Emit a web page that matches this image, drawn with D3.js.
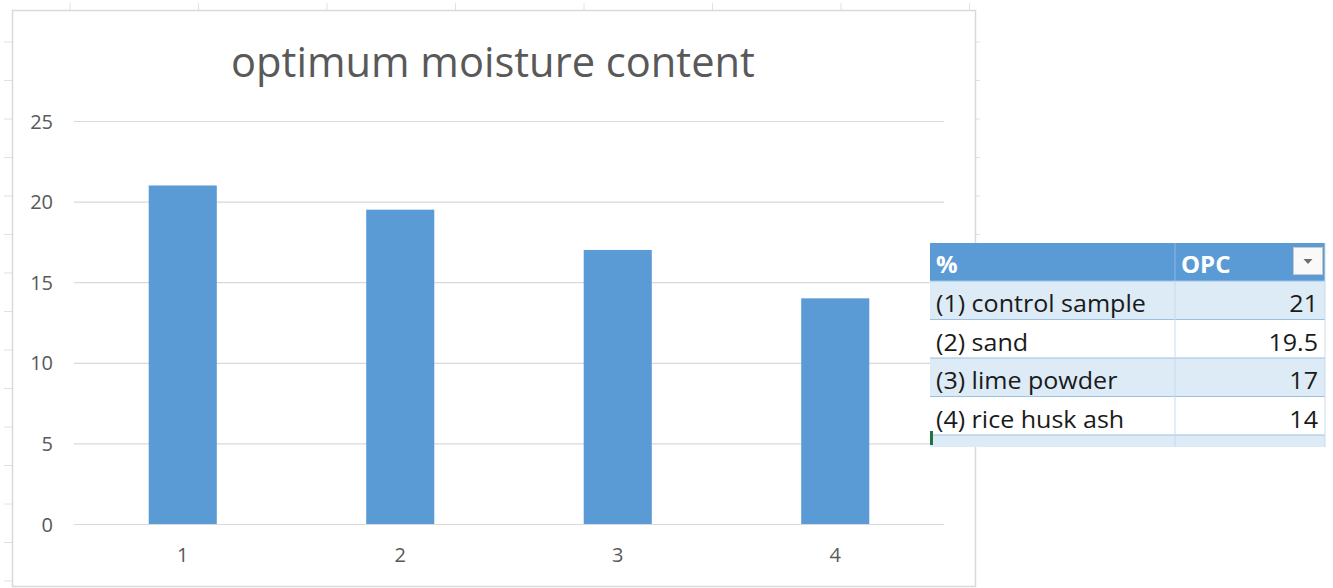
<!DOCTYPE html>
<html>
<head>
<meta charset="utf-8">
<script src="https://cdn.jsdelivr.net/npm/d3@7"></script>
<style>
  html, body { margin: 0; padding: 0; background: #fff; }
  svg { display: block; }
</style>
</head>
<body>
<svg id="chart" width="1333" height="588"></svg>
<script>
// Optimum moisture content (%) of the OPC mixes
const categories = ["1", "2", "3", "4"];
const values = [21, 19.5, 17, 14];
const yTicks = [0, 5, 10, 15, 20, 25];
const rowLabels = ["(1) control sample", "(2) sand", "(3) lime powder", "(4) rice husk ash"];
const tableHeader = ["%", "OPC"];
const chartTitle = "optimum moisture content";

const W = 1333, H = 588;
const svg = d3.select("#chart");
const font = "'Open Sans', 'Noto Sans', sans-serif";
const grey = "#595959";
const barColor = "#5b9bd5";

// fit a text element to a given pixel width
function fitWidth(sel, target) {
  const node = sel.node();
  const base = parseFloat(sel.attr("font-size"));
  const w = node.getComputedTextLength();
  sel.attr("font-size", (base * target / w).toFixed(2));
}

// worksheet cell-grid stubs around the chart object
const frame = { x0: 12, y0: 10, x1: 975, y1: 586 };
const rowStep = 38.5, colStep = 128.5;
const stubs = svg.append("g").attr("stroke", "#e2e2e2").attr("stroke-width", 1);
for (let y = 42; y < H; y += rowStep) {
  stubs.append("line").attr("x1", 4).attr("x2", frame.x0).attr("y1", y).attr("y2", y);
  if (y < 240) stubs.append("line").attr("x1", frame.x1).attr("x2", frame.x1 + 5).attr("y1", y).attr("y2", y);
}
for (let x = 70; x < frame.x1; x += colStep) {
  stubs.append("line").attr("x1", x).attr("x2", x).attr("y1", 3).attr("y2", frame.y0);
}

// chart area border
svg.append("rect")
  .attr("x", frame.x0 + 0.5).attr("y", frame.y0 + 0.5)
  .attr("width", frame.x1 - frame.x0).attr("height", frame.y1 - frame.y0)
  .attr("fill", "#fff").attr("stroke", "#d9d9d9").attr("stroke-width", 1.5);

// scales
const x = d3.scaleBand().domain(categories).range([74, 944]).padding(0);
const y = d3.scaleLinear().domain([0, 25]).range([524, 121]);
const barW = x.bandwidth() * 0.313;

// gridlines
svg.append("g")
  .attr("transform", "translate(74,0)")
  .call(d3.axisLeft(y).tickValues(yTicks).tickSize(-870).tickFormat(""))
  .call(g => g.select(".domain").remove())
  .call(g => g.selectAll("line").attr("stroke", "#d9d9d9").attr("stroke-width", 1.2));

// y labels
svg.append("g")
  .attr("transform", "translate(53,0)")
  .call(d3.axisLeft(y).tickValues(yTicks).tickSize(0).tickPadding(0))
  .call(g => g.select(".domain").remove())
  .call(g => g.selectAll("text").attr("fill", grey).attr("font-family", font).attr("font-size", 20).attr("dy", "0.35em"));

// x labels
svg.append("g")
  .attr("transform", "translate(0,562)")
  .call(d3.axisBottom(x).tickSize(0).tickPadding(0))
  .call(g => g.select(".domain").remove())
  .call(g => g.selectAll("text").attr("fill", grey).attr("font-family", font).attr("font-size", 20).attr("dy", 0).attr("y", 0));

// bars
svg.append("g").selectAll("rect")
  .data(values)
  .join("rect")
  .attr("x", (d, i) => x(categories[i]) + (x.bandwidth() - barW) / 2)
  .attr("width", barW)
  .attr("y", d => y(d))
  .attr("height", d => y(0) - y(d))
  .attr("fill", barColor);

// title
const title = svg.append("text")
  .attr("x", 493).attr("y", 77)
  .attr("text-anchor", "middle")
  .attr("font-family", font).attr("font-size", 36)
  .attr("fill", grey)
  .text(chartTitle);
fitWidth(title, 524);

// ---- data table (Excel-style) ----
const tb = { x0: 930, x1: 1325, xc: 1175, top: 243, headH: 38, rowH: 38.5 };
const table = svg.append("g");
const rowTops = rowLabels.map((_, i) => tb.top + tb.headH + i * tb.rowH);

// header
table.append("rect").attr("x", tb.x0).attr("y", tb.top)
  .attr("width", tb.x1 - tb.x0).attr("height", tb.headH).attr("fill", barColor);
table.append("line").attr("x1", tb.xc).attr("x2", tb.xc)
  .attr("y1", tb.top).attr("y2", tb.top + tb.headH).attr("stroke", "#8fb8e0");

// body rows (banded) plus a partial row below
const bands = rowLabels.concat([""]);
table.selectAll("rect.row")
  .data(bands)
  .join("rect")
  .attr("class", "row")
  .attr("x", tb.x0)
  .attr("y", (d, i) => tb.top + tb.headH + i * tb.rowH)
  .attr("width", tb.x1 - tb.x0)
  .attr("height", (d, i) => i < rowLabels.length ? tb.rowH : 12)
  .attr("fill", (d, i) => i % 2 === 0 ? "#ddebf7" : "#ffffff");

// row borders
table.selectAll("line.rb")
  .data(d3.range(bands.length))
  .join("line")
  .attr("class", "rb")
  .attr("x1", tb.x0).attr("x2", tb.x1)
  .attr("y1", i => tb.top + tb.headH + i * tb.rowH)
  .attr("y2", i => tb.top + tb.headH + i * tb.rowH)
  .attr("stroke", "#9bc2e6").attr("stroke-width", 1.2);
table.append("line").attr("x1", tb.xc).attr("x2", tb.xc)
  .attr("y1", tb.top + tb.headH).attr("y2", tb.top + tb.headH + rowLabels.length * tb.rowH + 12)
  .attr("stroke", "#c9d9ea");
table.append("line").attr("x1", tb.x1).attr("x2", tb.x1)
  .attr("y1", tb.top).attr("y2", tb.top + tb.headH + rowLabels.length * tb.rowH + 12)
  .attr("stroke", "#c9d9ea");

// header text
table.append("text").attr("x", tb.x0 + 6).attr("y", tb.top + 30)
  .attr("font-family", font).attr("font-weight", "bold").attr("font-size", 24)
  .attr("fill", "#fff").text(tableHeader[0]);
table.append("text").attr("x", tb.xc + 6).attr("y", tb.top + 30)
  .attr("font-family", font).attr("font-weight", "bold").attr("font-size", 24)
  .attr("fill", "#fff").text(tableHeader[1]);

// filter dropdown
table.append("rect").attr("x", 1293.5).attr("y", 247.5).attr("width", 29).attr("height", 27)
  .attr("fill", "#f9f9f9").attr("stroke", "#c8c8c8");
table.append("path").attr("d", "M1303.5,259 L1312.5,259 L1308,264 Z").attr("fill", "#6e6e6e");

// row text: slightly condensed so the taller glyphs keep the narrow set width
const cellSize = 24;
const probe = table.append("text").attr("font-family", font).attr("font-size", cellSize).text(rowLabels[0]);
const sx = 210 / probe.node().getComputedTextLength();
probe.remove();

table.selectAll("text.lab")
  .data(rowLabels)
  .join("text")
  .attr("class", "lab")
  .attr("transform", (d, i) => `translate(${tb.x0 + 6},${rowTops[i] + 31}) scale(${sx},1)`)
  .attr("font-family", font).attr("font-size", cellSize)
  .attr("fill", "#1a1a1a")
  .text(d => d);

table.selectAll("text.val")
  .data(values)
  .join("text")
  .attr("class", "val")
  .attr("transform", (d, i) => `translate(${tb.x1 - 7},${rowTops[i] + 31}) scale(${sx},1)`)
  .attr("text-anchor", "end")
  .attr("font-family", font).attr("font-size", cellSize)
  .attr("fill", "#1a1a1a")
  .text(d => d);

// active-cell marker
table.append("rect").attr("x", tb.x0).attr("y", 431).attr("width", 3).attr("height", 14).attr("fill", "#217346");
</script>
</body>
</html>
